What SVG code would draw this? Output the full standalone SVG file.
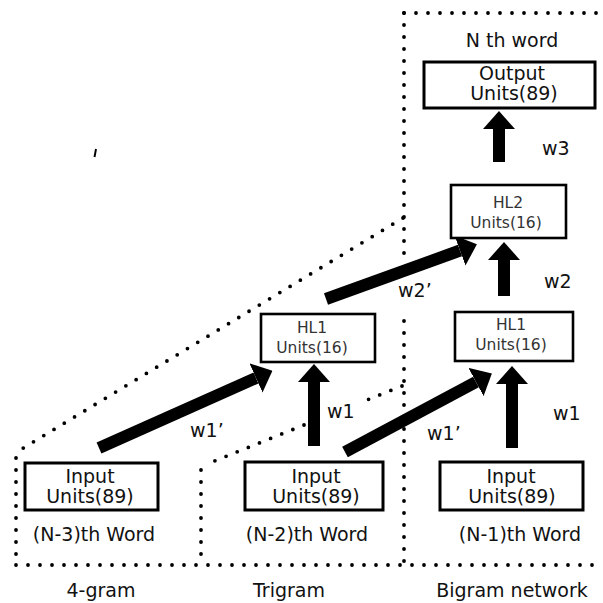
<svg xmlns="http://www.w3.org/2000/svg" width="603" height="603" viewBox="0 0 603 603">
  <defs>
    <marker id="head" markerUnits="userSpaceOnUse" viewBox="0 0 18 32" refX="0" refY="16" markerWidth="18" markerHeight="32" orient="auto">
      <path d="M0,0 L18,16 L0,32 z" fill="#000"/>
    </marker>
    <style>
      .box { fill: #fff; stroke: #000; stroke-width: 3; }
      .hbox { fill: #fff; stroke: #000; stroke-width: 2.6; }
      .t { font-family: "DejaVu Sans", "Liberation Sans", sans-serif; font-size: 19px; fill: #111; text-anchor: middle; }
      .h { font-family: "DejaVu Sans", "Liberation Sans", sans-serif; font-size: 15.5px; fill: #333; text-anchor: middle; }
      .w { font-family: "DejaVu Sans", "Liberation Sans", sans-serif; font-size: 19px; fill: #111; }
      .dot { fill: none; stroke: #000; stroke-width: 3.8; stroke-linecap: round; stroke-dasharray: 0 12; }
      .arr { stroke: #000; stroke-width: 12; fill: none; marker-end: url(#head); }
    </style>
  </defs>
  <rect width="603" height="603" fill="#fff"/>

  <g id="frames">
    <path class="dot" d="M404,13 L603,13"/>
    <path class="dot" d="M404,13 L404,258"/>
    <path class="dot" d="M404,321 L404,565"/>
    <path class="dot" d="M403,218 L20,450"/>
    <path class="dot" d="M16,458 L16,565"/>
    <path class="dot" d="M402,386 L362,402"/>
    <path class="dot" d="M304,425 L207,464"/>
    <path class="dot" d="M201,470 L201,565"/>
    <path class="dot" d="M16,565 L603,565"/>
    <path d="M96,149 L94.5,157" stroke="#000" stroke-width="2" fill="none"/>
  </g>

  <g id="connectors">
    <line class="arr" x1="499" y1="162" x2="499" y2="129"/>
    <line class="arr" x1="504" y1="296" x2="504" y2="260"/>
    <line class="arr" x1="326" y1="299" x2="460" y2="250.5"/>
    <line class="arr" x1="314" y1="446" x2="314" y2="382"/>
    <line class="arr" x1="512" y1="448" x2="512" y2="384"/>
    <line class="arr" x1="99" y1="448" x2="256" y2="378"/>
    <line class="arr" x1="345" y1="452" x2="476" y2="382"/>
    <text class="w" x="542" y="155">w3</text>
    <text class="w" x="544" y="288">w2</text>
    <text class="w" x="398" y="297">w2’</text>
    <text class="w" x="327" y="418">w1</text>
    <text class="w" x="553" y="420">w1</text>
    <text class="w" x="190" y="437">w1’</text>
    <text class="w" x="427" y="440">w1’</text>
  </g>

  <g id="output">
    <text class="t" x="512" y="47" font-size="20">N th word</text>
    <rect class="box" x="424" y="62" width="171" height="46"/>
    <text class="t" x="512" y="80">Output</text>
    <text class="t" x="514" y="100">Units(89)</text>
  </g>

  <g id="hl2">
    <rect class="hbox" x="451" y="185" width="115" height="53"/>
    <text class="h" x="508" y="208">HL2</text>
    <text class="h" x="506" y="228">Units(16)</text>
  </g>

  <g id="hl1-trigram">
    <rect class="hbox" x="261" y="314" width="114" height="48"/>
    <text class="h" x="312" y="333">HL1</text>
    <text class="h" x="312" y="353">Units(16)</text>
  </g>

  <g id="hl1-bigram">
    <rect class="hbox" x="455" y="312" width="118" height="49"/>
    <text class="h" x="511" y="330">HL1</text>
    <text class="h" x="511" y="350">Units(16)</text>
  </g>

  <g id="input-n3">
    <rect class="box" x="25" y="463" width="133" height="47"/>
    <text class="t" x="90" y="483">Input</text>
    <text class="t" x="90" y="503">Units(89)</text>
    <text class="t" x="94" y="541" font-size="20.5">(N-3)th Word</text>
  </g>

  <g id="input-n2">
    <rect class="box" x="245" y="462" width="138" height="48"/>
    <text class="t" x="316" y="483">Input</text>
    <text class="t" x="316" y="503">Units(89)</text>
    <text class="t" x="307" y="541" font-size="20.5">(N-2)th Word</text>
  </g>

  <g id="input-n1">
    <rect class="box" x="440" y="462" width="143" height="48"/>
    <text class="t" x="511" y="483">Input</text>
    <text class="t" x="512" y="503">Units(89)</text>
    <text class="t" x="520" y="541" font-size="20.5">(N-1)th Word</text>
  </g>

  <g id="labels">
    <text class="t" x="101" y="597">4-gram</text>
    <text class="t" x="289" y="597">Trigram</text>
    <text class="t" x="512" y="597">Bigram network</text>
  </g>
</svg>
